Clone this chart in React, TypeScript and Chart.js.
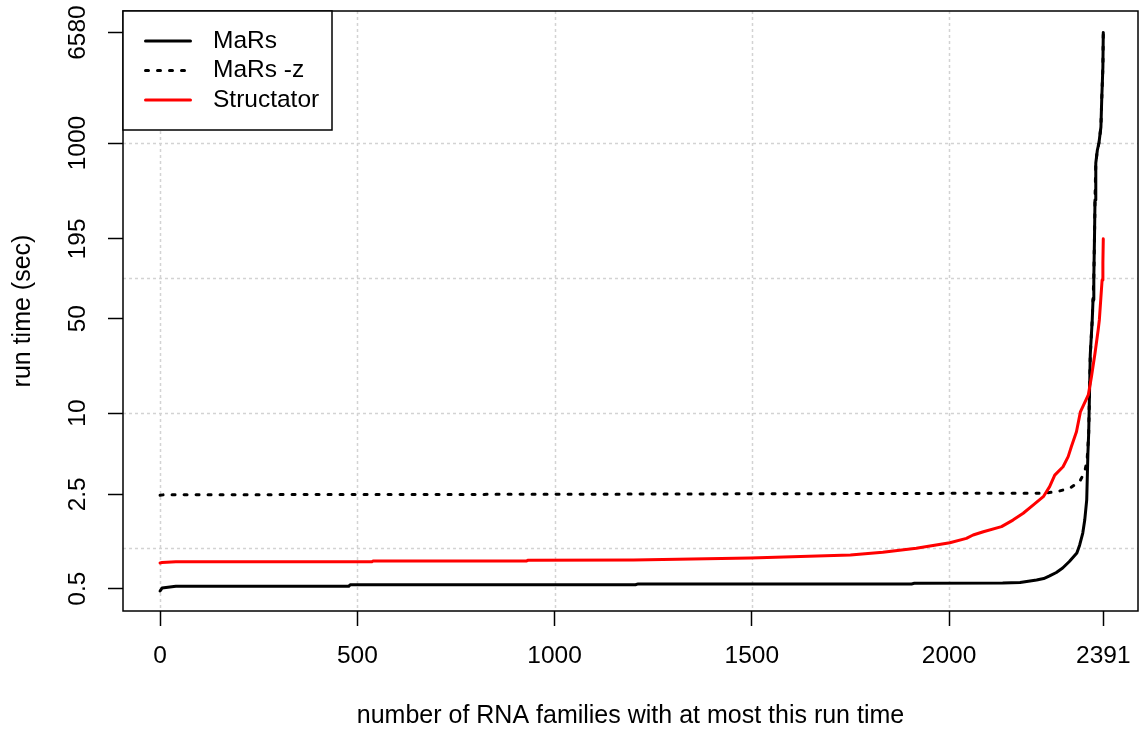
import React, { useEffect, useRef } from "react";
import { Chart, registerables } from "chart.js";

Chart.register(...registerables);

// ---- data ----
const seriesNames = ["MaRs", "MaRs -z", "Structator"];
const seriesColors = ["#000000", "#000000", "#ff0000"];

const marsX = [0, 5, 40, 478, 482, 1205, 1212, 1905, 1912, 2136, 2180, 2222, 2240, 2255, 2272, 2288, 2305, 2324, 2331, 2339, 2344, 2349, 2352, 2354, 2358, 2363, 2365, 2367, 2369, 2370, 2372, 2376, 2380, 2385, 2387, 2390, 2391];
const marsY = [0.48, 0.505, 0.52, 0.52, 0.535, 0.535, 0.542, 0.542, 0.548, 0.55, 0.556, 0.579, 0.594, 0.621, 0.659, 0.711, 0.794, 0.918, 1.05, 1.29, 1.61, 2.27, 5.0, 7.1, 27, 49, 69, 100, 227, 378, 711, 888, 1000, 1314, 2084, 3660, 6580];

const marsZX = [0, 10, 1000, 1750, 2240, 2272, 2306, 2331, 2344, 2350, 2352, 2354, 2358, 2363, 2365, 2367, 2369, 2370, 2372, 2376, 2380, 2385, 2387, 2390, 2391];
const marsZY = [2.46, 2.48, 2.5, 2.53, 2.55, 2.61, 2.77, 3.1, 3.67, 4.48, 5.63, 7.1, 27, 49, 69, 100, 227, 378, 711, 888, 1000, 1314, 2084, 3660, 6580];

const structX = [0, 5, 40, 537, 540, 929, 932, 1200, 1497, 1750, 1832, 1917, 2002, 2044, 2061, 2087, 2133, 2162, 2188, 2213, 2239, 2255, 2268, 2289, 2302, 2310, 2323, 2333, 2353, 2361, 2370, 2378, 2381, 2385, 2388, 2390, 2391];
const structY = [0.775, 0.78, 0.79, 0.79, 0.8, 0.8, 0.81, 0.815, 0.845, 0.888, 0.929, 0.995, 1.095, 1.179, 1.248, 1.32, 1.439, 1.61, 1.81, 2.08, 2.4, 2.85, 3.47, 4.0, 4.75, 5.63, 7.27, 10.2, 13.6, 18.6, 27.7, 41.2, 48.9, 72.3, 96.7, 129, 195];

const xTicks = [0, 500, 1000, 1500, 2000, 2391];
const yTicks = [0.5, 2.5, 10, 50, 195, 1000, 6580];
const xGrid = [0, 500, 1000, 1500, 2000];
const yGrid = [1, 10, 100, 1000];
const xRange = [-94, 2479];
const yRange = [0.3415, 9506];

const xTitle = "number of RNA families with at most this run time";
const yTitle = "run time (sec)";

const FONT = "'Liberation Sans', Arial, Helvetica, sans-serif";

const toPoints = (xs: number[], ys: number[]) => xs.map((x, i) => ({ x, y: ys[i] }));

const gridPlugin = {
  id: "rgrid",
  beforeDatasetsDraw(chart: any) {
    const { ctx, chartArea: a, scales } = chart;
    const xs = scales.x;
    const ys = scales.y;
    ctx.save();
    ctx.strokeStyle = "#d3d3d3";
    ctx.lineWidth = 1.5;
    ctx.setLineDash([3, 3]);
    xGrid.forEach((v) => {
      const px = Math.round(xs.getPixelForValue(v)) + 0.5;
      ctx.beginPath();
      ctx.moveTo(px, a.top);
      ctx.lineTo(px, a.bottom);
      ctx.stroke();
    });
    yGrid.forEach((v) => {
      const py = Math.round(ys.getPixelForValue(v)) + 0.5;
      ctx.beginPath();
      ctx.moveTo(a.left, py);
      ctx.lineTo(a.right, py);
      ctx.stroke();
    });
    ctx.restore();
  },
};

const boxPlugin = {
  id: "rbox",
  afterDatasetsDraw(chart: any) {
    const { ctx, chartArea: a } = chart;
    ctx.save();
    ctx.strokeStyle = "#000";
    ctx.lineWidth = 1.5;
    ctx.setLineDash([]);
    ctx.strokeRect(a.left, a.top, a.right - a.left, a.bottom - a.top);
    ctx.restore();
  },
};

const legendPlugin = {
  id: "rlegend",
  afterDraw(chart: any) {
    const { ctx, chartArea: a } = chart;
    const lx = a.left;
    const ly = a.top;
    const lw = 209;
    const lh = 119;
    ctx.save();
    ctx.fillStyle = "#fff";
    ctx.fillRect(lx, ly, lw, lh);
    ctx.strokeStyle = "#000";
    ctx.lineWidth = 1.5;
    ctx.setLineDash([]);
    ctx.strokeRect(lx, ly, lw, lh);
    ctx.font = `24.5px ${FONT}`;
    ctx.textBaseline = "middle";
    ctx.textAlign = "left";
    chart.data.datasets.forEach((ds: any, i: number) => {
      const yy = ly + 30 + i * 29.5;
      ctx.beginPath();
      ctx.strokeStyle = ds.borderColor;
      ctx.lineWidth = 3;
      ctx.lineCap = "round";
      ctx.setLineDash(ds.borderDash || []);
      ctx.moveTo(lx + 22.5, yy);
      ctx.lineTo(lx + 67.5, yy);
      ctx.stroke();
      ctx.setLineDash([]);
      ctx.fillStyle = "#000";
      ctx.fillText(ds.label, lx + 90, yy);
    });
    ctx.restore();
  },
};

export default function App() {
  const ref = useRef<HTMLCanvasElement>(null);

  useEffect(() => {
    if (!ref.current) return;
    Chart.defaults.font.family = FONT;
    Chart.defaults.font.size = 24;
    Chart.defaults.color = "#000";

    const chart = new Chart(ref.current, {
      type: "line",
      data: {
        datasets: [
          {
            label: seriesNames[0],
            data: toPoints(marsX, marsY),
            borderColor: seriesColors[0],
            borderWidth: 3,
            borderCapStyle: "round",
            borderJoinStyle: "round",
            order: 2,
          },
          {
            label: seriesNames[1],
            data: toPoints(marsZX, marsZY),
            borderColor: seriesColors[1],
            borderWidth: 3,
            borderDash: [3, 9],
            borderCapStyle: "round",
            borderJoinStyle: "round",
            order: 1,
          },
          {
            label: seriesNames[2],
            data: toPoints(structX, structY),
            borderColor: seriesColors[2],
            borderWidth: 3,
            borderCapStyle: "round",
            borderJoinStyle: "round",
            order: 0,
          },
        ] as any,
      },
      options: {
        animation: false,
        responsive: false,
        devicePixelRatio: 1,
        layout: { padding: { top: 11, right: 1, left: 0, bottom: 0 } },
        elements: { point: { radius: 0, hoverRadius: 0 }, line: { tension: 0, fill: false } },
        plugins: { legend: { display: false }, tooltip: { enabled: false } },
        events: [],
        scales: {
          x: {
            type: "linear",
            bounds: "data",
            min: xRange[0],
            max: xRange[1],
            afterFit: (s: any) => {
              s.height = 118;
              s.paddingLeft = 0;
              s.paddingRight = 0;
            },
            afterBuildTicks: (s: any) => {
              s.ticks = xTicks.map((v) => ({ value: v }));
            },
            ticks: {
              autoSkip: false,
              maxRotation: 0,
              minRotation: 0,
              padding: 16,
              color: "#000",
              font: { size: 24.5, family: FONT },
              callback: (v: any) => String(v),
            },
            grid: {
              drawOnChartArea: false,
              drawTicks: true,
              tickLength: 15,
              tickColor: "#000",
              tickWidth: 1.5,
            },
            border: { display: false },
            title: {
              display: true,
              text: xTitle,
              color: "#000",
              font: { size: 25, family: FONT, lineHeight: 1 },
              padding: { top: 0, bottom: 0 },
            },
          },
          y: {
            type: "logarithmic",
            bounds: "data",
            min: yRange[0],
            max: yRange[1],
            afterFit: (s: any) => {
              s.width = 123;
              s.paddingTop = 0;
              s.paddingBottom = 0;
            },
            afterBuildTicks: (s: any) => {
              s.ticks = yTicks.map((v) => ({ value: v }));
            },
            ticks: {
              autoSkip: false,
              minRotation: 90,
              maxRotation: 90,
              crossAlign: "center",
              padding: 2,
              color: "#000",
              font: { size: 24.5, family: FONT },
              callback: (v: any) => String(v),
            },
            grid: {
              drawOnChartArea: false,
              drawTicks: true,
              tickLength: 15,
              tickColor: "#000",
              tickWidth: 1.5,
            },
            border: { display: false },
            title: {
              display: true,
              text: yTitle,
              color: "#000",
              font: { size: 25, family: FONT, lineHeight: 1 },
              padding: { top: 11, bottom: 0 },
            },
          },
        } as any,
      },
      plugins: [gridPlugin, boxPlugin, legendPlugin],
    });

    return () => chart.destroy();
  }, []);

  return (
    <div style={{ position: "fixed", left: 0, top: 0, width: 1139, height: 729, background: "#fff" }}>
      <canvas ref={ref} width={1139} height={729} style={{ display: "block", width: 1139, height: 729 }} />
    </div>
  );
}
